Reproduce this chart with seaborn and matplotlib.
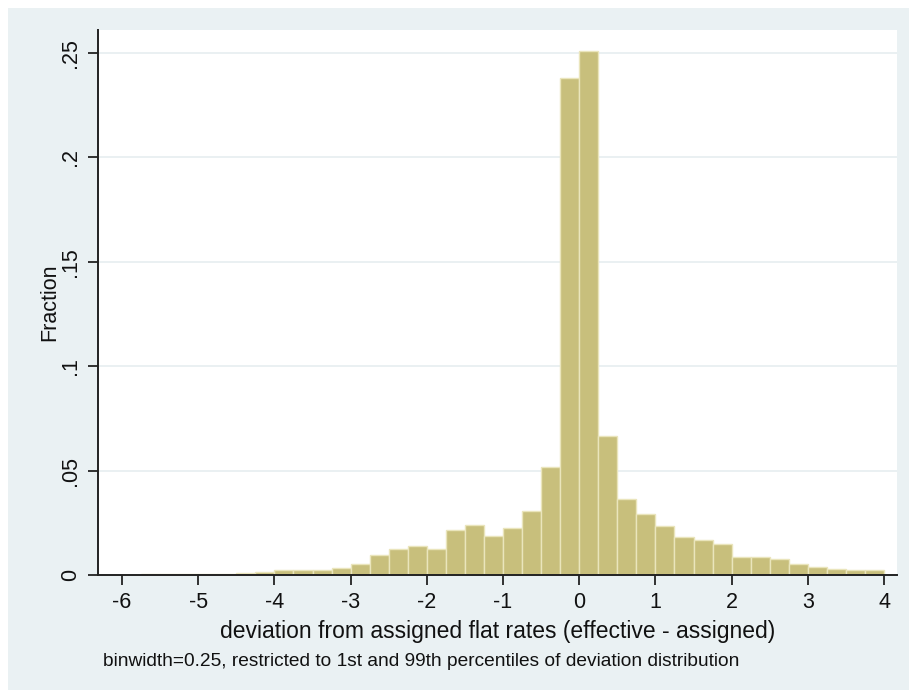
import numpy as np
import pandas as pd
import matplotlib
matplotlib.use("Agg")
import matplotlib.pyplot as plt
import seaborn as sns
from matplotlib.patches import Rectangle

# Bin left edges (binwidth 0.25) and fraction per bin
bin_left = [-5.75, -5.5, -5.25, -5.0, -4.75, -4.5, -4.25, -4.0, -3.75, -3.5,
            -3.25, -3.0, -2.75, -2.5, -2.25, -2.0, -1.75, -1.5, -1.25, -1.0,
            -0.75, -0.5, -0.25, 0.0, 0.25, 0.5, 0.75, 1.0, 1.25, 1.5,
            1.75, 2.0, 2.25, 2.5, 2.75, 3.0, 3.25, 3.5, 3.75]
fraction = [0.0004, 0.0005, 0.0005, 0.0007, 0.0007, 0.0008, 0.0016, 0.0026, 0.0026, 0.0025,
            0.0034, 0.0052, 0.0096, 0.0125, 0.0138, 0.0125, 0.0215, 0.0240, 0.0187, 0.0225,
            0.0307, 0.0515, 0.2380, 0.2510, 0.0666, 0.0364, 0.0290, 0.0235, 0.0180, 0.0170,
            0.0150, 0.0088, 0.0088, 0.0077, 0.0055, 0.0038, 0.0030, 0.0025, 0.0023]
binwidth = 0.25

x_ticks = [-6, -5, -4, -3, -2, -1, 0, 1, 2, 3, 4]
x_ticklabels = ["-6", "-5", "-4", "-3", "-2", "-1", "0", "1", "2", "3", "4"]
y_ticks = [0, 0.05, 0.1, 0.15, 0.2, 0.25]
y_ticklabels = ["0", ".05", ".1", ".15", ".2", ".25"]

df = pd.DataFrame({"x": np.array(bin_left) + binwidth / 2, "w": fraction})
edges = list(bin_left) + [bin_left[-1] + binwidth]

sns.set_theme(style="white")
plt.rcParams["font.family"] = ["Liberation Sans", "DejaVu Sans"]

W, H = 909, 690
fig = plt.figure(figsize=(W / 100, H / 100), dpi=100)
fig.patch.set_facecolor("white")
bg = Rectangle((8 / W, 0), 1 - 8 / W, 1 - 8 / H, transform=fig.transFigure,
               facecolor="#EAF1F3", edgecolor="none", zorder=-10)
fig.patches.append(bg)

left, right, top, bottom = 98, 897, 30, 575
ax = fig.add_axes([left / W, 1 - bottom / H, (right - left) / W, (bottom - top) / H])
ax.set_zorder(1)
ax.set_facecolor("white")

sns.histplot(data=df, x="x", weights="w", bins=edges, stat="count",
             color="#C8BF7C", edgecolor="#EAE5BC", linewidth=1.0, alpha=1.0, ax=ax, zorder=3)

ax.set_xlim(-6.315, 4.17)
ax.set_ylim(0, 0.261)
ax.set_xticks(x_ticks)
ax.set_xticklabels(x_ticklabels)
ax.set_yticks(y_ticks)
ax.set_yticklabels(y_ticklabels, rotation=90, va="center")
for y in y_ticks[1:]:
    ax.axhline(y, color="#E6EEF0", linewidth=1.2, zorder=1)

for s in ["top", "right"]:
    ax.spines[s].set_visible(False)
for s in ["left", "bottom"]:
    ax.spines[s].set_color("#222222")
    ax.spines[s].set_linewidth(1.4)
    ax.spines[s].set_zorder(5)
ax.tick_params(axis="x", which="major", direction="out", length=7, width=1.3,
               color="#222222", labelsize=15.5, labelcolor="#111111", bottom=True, pad=5)
ax.tick_params(axis="y", which="major", direction="out", length=7, width=1.3,
               color="#222222", labelsize=15.5, labelcolor="#111111", left=True, pad=5)

ax.set_xlabel("deviation from assigned flat rates (effective - assigned)", fontsize=16.5,
              color="#111111", labelpad=5)
ax.set_ylabel("Fraction", fontsize=15.5, color="#111111", labelpad=0)

fig.text(103 / W, 1 - 661 / H, "binwidth=0.25, restricted to 1st and 99th percentiles of deviation distribution",
         fontsize=13.8, color="#111111", va="center", ha="left")

fig.savefig("out.png", dpi=100)
